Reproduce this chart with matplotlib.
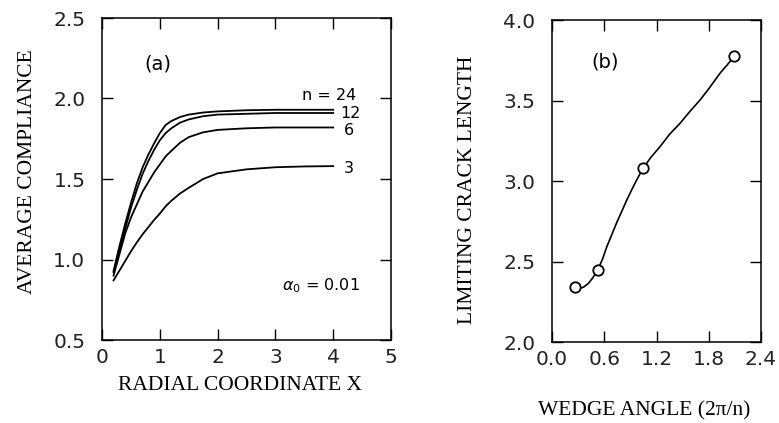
import matplotlib
matplotlib.use("Agg")
import matplotlib.pyplot as plt

# ---- data (a) ----
x_a = [0.2, 0.3, 0.4, 0.5, 0.6, 0.7, 0.8, 0.9, 1.0, 1.1, 1.2, 1.35, 1.5, 1.75,
       2.0, 2.5, 3.0, 3.5, 4.0]
n24 = [0.93, 1.08, 1.22, 1.35, 1.47, 1.57, 1.65, 1.72, 1.785, 1.835, 1.86, 1.885,
       1.90, 1.913, 1.92, 1.927, 1.93, 1.93, 1.93]
n12 = [0.92, 1.06, 1.19, 1.32, 1.43, 1.53, 1.61, 1.68, 1.74, 1.785, 1.815, 1.85,
       1.87, 1.89, 1.90, 1.905, 1.91, 1.91, 1.91]
n6 = [0.90, 1.03, 1.16, 1.26, 1.34, 1.42, 1.48, 1.54, 1.59, 1.64, 1.675, 1.725,
      1.76, 1.79, 1.805, 1.815, 1.82, 1.82, 1.82]
n3 = [0.87, 0.93, 0.99, 1.05, 1.105, 1.155, 1.20, 1.245, 1.285, 1.33, 1.365, 1.41,
      1.445, 1.50, 1.535, 1.56, 1.573, 1.578, 1.58]
curve_labels = ["n = 24", "12", "6", "3"]
xticks_a = [0, 1, 2, 3, 4, 5]
yticks_a = [0.5, 1.0, 1.5, 2.0, 2.5]

# ---- data (b) ----
pts_x = [0.262, 0.524, 1.047, 2.094]
pts_y = [2.343, 2.446, 3.08, 3.775]
trace_x = [0.262, 0.30, 0.36, 0.42, 0.47, 0.524, 0.58, 0.628, 0.685, 0.742, 0.80,
           0.857, 0.915, 0.972, 1.047, 1.14, 1.24, 1.35, 1.47, 1.58, 1.70, 1.81,
           1.93, 2.01, 2.094]
trace_y = [2.343, 2.332, 2.34, 2.365, 2.40, 2.446, 2.515, 2.59, 2.665, 2.74, 2.81,
           2.88, 2.945, 3.006, 3.08, 3.15, 3.213, 3.29, 3.358, 3.43, 3.503, 3.58,
           3.67, 3.72, 3.775]
xticks_b = [0.0, 0.6, 1.2, 1.8, 2.4]
yticks_b = [2.0, 2.5, 3.0, 3.5, 4.0]

W, H = 779, 423
fig = plt.figure(figsize=(W / 100, H / 100), dpi=100)

def px_axes(l, r, t, b):
    return fig.add_axes([l / W, 1 - b / H, (r - l) / W, (b - t) / H])

tick_font = dict(family="DejaVu Sans", size=14.5)
label_font = dict(family="Liberation Serif", size=15.5)

def style(ax):
    for s in ax.spines.values():
        s.set_linewidth(1.1)
    ax.tick_params(direction="in", length=8, width=1.0, top=True, right=True,
                   labeltop=False, labelright=False)
    ax.tick_params(axis="x", pad=6)
    ax.tick_params(axis="y", pad=12)
    for lab in ax.get_xticklabels() + ax.get_yticklabels():
        lab.set_fontfamily(tick_font["family"])
        lab.set_fontsize(tick_font["size"])
        lab.set_color("#222222")

# ---- panel (a) ----
axa = px_axes(102, 391, 18, 340)
for ys in (n24, n12, n6, n3):
    axa.plot(x_a, ys, color="black", lw=1.3)
axa.set_xlim(0, 5)
axa.set_ylim(0.5, 2.5)
axa.set_xticks(xticks_a)
axa.set_yticks(yticks_a)
axa.set_xticklabels([str(v) for v in xticks_a])
axa.set_yticklabels([f"{v:.1f}" for v in yticks_a])
style(axa)
axa.text(0.97, 2.216, "(a)", ha="center", va="center", fontsize=14, family="DejaVu Sans")
axa.text(3.93, 2.02, curve_labels[0], ha="center", va="center", fontsize=11.5, family="DejaVu Sans")
axa.text(4.29, 1.904, curve_labels[1], ha="center", va="center", fontsize=11.5, family="DejaVu Sans")
axa.text(4.27, 1.80, curve_labels[2], ha="center", va="center", fontsize=11.5, family="DejaVu Sans")
axa.text(4.27, 1.568, curve_labels[3], ha="center", va="center", fontsize=11.5, family="DejaVu Sans")
axa.text(3.11, 0.84, r"$\alpha_0$ = 0.01", ha="left", va="center", fontsize=11.5, family="DejaVu Sans")

# ---- panel (b) ----
axb = px_axes(552, 761, 20, 342)
axb.plot(trace_x, trace_y, color="black", lw=1.2)
axb.plot(pts_x, pts_y, "o", ms=7.5, mfc="white", mec="black", mew=1.3)
axb.set_xlim(0, 2.4)
axb.set_ylim(2.0, 4.0)
axb.set_xticks(xticks_b)
axb.set_yticks(yticks_b)
axb.set_xticklabels([f"{v:.1f}" for v in xticks_b])
axb.set_yticklabels([f"{v:.1f}" for v in yticks_b])
style(axb)
axb.text(0.608, 3.739, "(b)", ha="center", va="center", fontsize=14, family="DejaVu Sans")

# ---- axis titles ----
fig.text(27.5 / W, 1 - 172 / H, "AVERAGE COMPLIANCE", rotation=90, ha="center", va="center", **label_font)
fig.text(240 / W, 1 - 385 / H, "RADIAL COORDINATE X", ha="center", va="center", **label_font)
fig.text(467 / W, 1 - 190 / H, "LIMITING CRACK LENGTH", rotation=90, ha="center", va="center", **label_font)
fig.text(644 / W, 1 - 411 / H, "WEDGE ANGLE (2π/n)", ha="center", va="center", **label_font)

fig.savefig("out.png", dpi=100)
